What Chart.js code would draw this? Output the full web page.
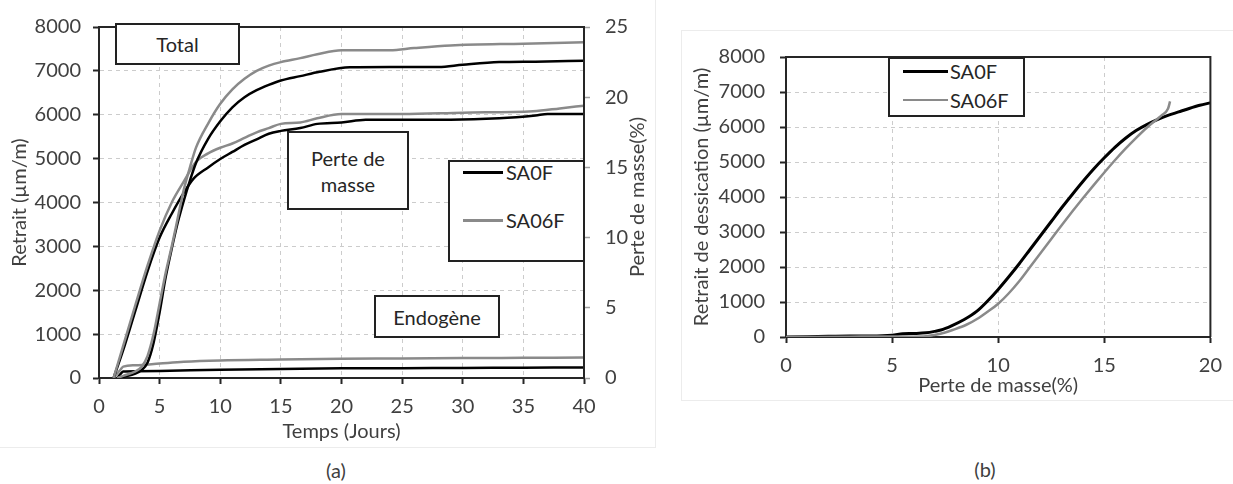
<!DOCTYPE html>
<html><head><meta charset="utf-8">
<script src="https://cdn.jsdelivr.net/npm/chart.js@4"></script>
<style>
body{margin:0;background:#fff;width:1233px;height:484px;position:relative;overflow:hidden;font-family:Lato,sans-serif;color:#404040}
.abs{position:absolute}
.box{position:absolute;border:2px solid #222;background:#fff;box-sizing:border-box;display:flex;align-items:center;justify-content:center;text-align:center;font-size:20px;color:#262626;line-height:1.3}
.leg{position:absolute;font-size:20px;color:#262626;line-height:24px;white-space:nowrap}
.ln{position:absolute;height:3px}
.frame{position:absolute;background:#ececec}
</style></head>
<body>
<div class="frame" style="left:655px;top:0;width:1px;height:447px"></div>
<div class="frame" style="left:0;top:447px;width:656px;height:1px"></div>
<div class="frame" style="left:681px;top:30px;width:552px;height:1px"></div>
<div class="frame" style="left:681px;top:30px;width:1px;height:370px"></div>
<div class="frame" style="left:681px;top:400px;width:552px;height:1px"></div>

<div class="abs" style="left:0;top:0;width:655px;height:446px"><canvas id="ca" width="655" height="446"></canvas></div>
<div class="abs" style="left:681px;top:30px;width:552px;height:370px"><canvas id="cb" width="552" height="370"></canvas></div>

<div class="abs" style="left:636px;top:197px;transform:translate(-50%,-50%) rotate(-90deg);font-size:20px;white-space:nowrap">Perte de masse(%)</div>

<div class="box" style="left:115px;top:23px;width:125px;height:42px">Total</div>
<div class="box" style="left:287px;top:131px;width:122px;height:79px">Perte de<br>masse</div>
<div class="box" style="left:374px;top:295px;width:126px;height:43px">Endogène</div>

<div class="box" style="left:448px;top:160px;width:137px;height:102px"></div>
<div class="ln" style="left:463px;top:171px;width:40px;background:#000"></div>
<div class="leg" style="left:506px;top:160px">SA0F</div>
<div class="ln" style="left:463px;top:219px;width:40px;background:#8a8a8a"></div>
<div class="leg" style="left:506px;top:208px">SA06F</div>

<div class="box" style="left:888px;top:57px;width:137px;height:60px"></div>
<div class="ln" style="left:903px;top:70px;width:45px;background:#000"></div>
<div class="leg" style="left:950px;top:59px">SA0F</div>
<div class="ln" style="left:903px;top:99px;width:45px;background:#8a8a8a;height:2px"></div>
<div class="leg" style="left:950px;top:88px">SA06F</div>

<div class="abs" style="left:336px;top:470px;transform:translate(-50%,-50%);font-size:20px">(a)</div>
<div class="abs" style="left:985px;top:469px;transform:translate(-50%,-50%);font-size:20px">(b)</div>

<script>
// ---------- Panel (a) data ----------
const totalDaysSA0F = [1.5, 2, 3, 3.5, 4, 4.5, 5, 5.5, 6, 6.5, 7, 7.5, 8, 9, 10, 11, 12, 13, 14, 15, 16.6, 18.2, 20.7, 24, 28, 30, 33, 36, 40];
const totalSA0F = [0, 30, 100, 180, 350, 800, 1500, 2300, 2950, 3550, 4050, 4500, 4900, 5450, 5850, 6170, 6400, 6560, 6680, 6780, 6880, 6980, 7080, 7090, 7090, 7140, 7200, 7210, 7230];
const totalDaysSA06F = [1.5, 2, 3, 3.5, 4, 4.5, 5, 5.5, 6, 6.5, 7, 7.5, 8, 9, 10, 11, 12, 13, 14, 15, 16.6, 18, 20, 24, 26, 29, 35, 40];
const totalSA06F = [0, 50, 150, 250, 500, 1000, 1700, 2400, 3000, 3650, 4300, 4800, 5250, 5800, 6250, 6580, 6820, 7000, 7120, 7200, 7290, 7380, 7470, 7470, 7520, 7580, 7620, 7650];

const massDaysSA0F = [1.2, 2, 3, 4, 5, 6, 7, 7.8, 9, 10, 11, 12, 13, 14, 15, 16.6, 18, 20, 22, 25, 29, 33, 36, 37, 40];
const massSA0F = [0, 2.0, 4.8, 7.6, 10.0, 11.7, 13.2, 14.2, 15.0, 15.6, 16.1, 16.6, 17.0, 17.4, 17.6, 17.8, 18.1, 18.2, 18.4, 18.4, 18.4, 18.5, 18.7, 18.8, 18.8];
const massDaysSA06F = [1.2, 2, 3, 4, 5, 6, 7, 8, 9, 10, 11, 12, 13, 14, 15, 16.6, 18, 20, 22, 25, 30, 35.8, 38, 40];
const massSA06F = [0, 2.3, 5.2, 8.0, 10.5, 12.5, 14.0, 15.4, 16.0, 16.4, 16.7, 17.1, 17.5, 17.8, 18.1, 18.2, 18.5, 18.8, 18.8, 18.8, 18.9, 19.0, 19.2, 19.4];

const endoDaysSA0F = [1.5, 1.8, 2, 3, 5, 10, 15, 20, 25, 30, 35, 40];
const endoSA0F = [0, 100, 150, 155, 160, 190, 205, 220, 225, 230, 235, 240];
const endoDaysSA06F = [1.2, 1.8, 2, 3, 5, 7, 10, 15, 20, 25, 30, 35, 40];
const endoSA06F = [0, 200, 260, 290, 330, 370, 400, 420, 440, 445, 455, 460, 465];

// ---------- Panel (b) data ----------
const lossSA0F = [0, 1, 2, 3, 4, 5, 5.5, 6, 6.6, 7, 7.3, 7.8, 8.4, 9, 9.5, 10, 10.5, 11, 11.5, 12, 12.5, 13, 13.5, 14, 14.5, 15, 15.5, 16, 16.5, 17, 17.5, 18, 18.5, 19, 19.5, 20];
const desSA0F = [0, 10, 20, 30, 30, 50, 90, 100, 120, 160, 200, 320, 500, 740, 1030, 1360, 1720, 2100, 2500, 2900, 3300, 3700, 4080, 4450, 4800, 5120, 5420, 5680, 5900, 6070, 6210, 6330, 6430, 6530, 6620, 6690];
const lossSA06F = [0, 3, 5, 6, 6.6, 7, 7.5, 7.85, 8.5, 9.1, 9.5, 10, 10.5, 11, 11.5, 12, 12.5, 13, 13.5, 14, 14.5, 15, 15.5, 16, 16.5, 17, 17.5, 17.7, 18, 18.1];
const desSA06F = [0, 10, 15, 10, 20, 60, 130, 200, 350, 550, 720, 950, 1250, 1600, 2000, 2400, 2800, 3200, 3590, 3970, 4340, 4700, 5050, 5380, 5690, 5980, 6230, 6330, 6520, 6730];

const daysTicks = [0, 5, 10, 15, 20, 25, 30, 35, 40];

const zip = (xs, ys) => xs.map((x, i) => ({x, y: ys[i]}));
const BLACK = '#000000', GRAY = '#8a8a8a';
const FONT = {family: 'Lato', size: 20};
const plain = v => String(v);
Chart.defaults.font.family = 'Lato';
Chart.defaults.color = '#404040';

const frame = {
  id: 'frame',
  afterDraw(chart) {
    const {ctx, chartArea: a} = chart;
    ctx.save();
    ctx.strokeStyle = '#262626';
    ctx.lineWidth = 2;
    ctx.beginPath();
    ctx.moveTo(a.left, a.top); ctx.lineTo(a.right, a.top); ctx.lineTo(a.right, a.bottom);
    ctx.stroke();
    ctx.restore();
  }
};

const ds = (label, data, color, axis, w) => ({
  label, data, borderColor: color, backgroundColor: color, borderWidth: w || 2.5,
  pointRadius: 0, fill: false, cubicInterpolationMode: 'monotone', yAxisID: axis
});

const gridCommon = {color: '#cccccc', tickColor: '#262626', tickLength: 6, tickWidth: 2};
const borderCommon = {color: '#262626', width: 2, dash: [4, 4]};

new Chart(document.getElementById('ca'), {
  type: 'line',
  data: {datasets: [
    ds('Total SA06F', zip(totalDaysSA06F, totalSA06F), GRAY, 'y'),
    ds('Total SA0F', zip(totalDaysSA0F, totalSA0F), BLACK, 'y'),
    ds('Masse SA06F', zip(massDaysSA06F, massSA06F), GRAY, 'y1'),
    ds('Masse SA0F', zip(massDaysSA0F, massSA0F), BLACK, 'y1'),
    ds('Endo SA06F', zip(endoDaysSA06F, endoSA06F), GRAY, 'y'),
    ds('Endo SA0F', zip(endoDaysSA0F, endoSA0F), BLACK, 'y')
  ]},
  options: {
    responsive: false, animation: false,
    layout: {padding: {top: 16, left: 0, right: 0, bottom: 0}},
    plugins: {legend: {display: false}, tooltip: {enabled: false}},
    scales: {
      x: {
        type: 'linear', min: 0, max: 40,
        afterBuildTicks: s => { s.ticks = daysTicks.map(v => ({value: v})); },
        ticks: {font: FONT, padding: 11, maxRotation: 0, callback: plain},
        grid: gridCommon, border: borderCommon,
        title: {display: true, text: 'Temps (Jours)', font: FONT, padding: {top: 0, bottom: 2}},
        afterFit: s => { s.height = 68; }
      },
      y: {
        position: 'left', min: 0, max: 8000,
        ticks: {stepSize: 1000, font: FONT, padding: 12, callback: plain},
        grid: gridCommon, border: borderCommon,
        title: {display: true, text: 'Retrait (µm/m)', font: FONT, padding: {top: 8, bottom: 0}},
        afterFit: s => { s.width = 99; }
      },
      y1: {
        position: 'right', min: 0, max: 25,
        ticks: {stepSize: 5, font: FONT, padding: 15, callback: plain},
        grid: {drawOnChartArea: false, tickColor: '#a0a0a0', tickLength: 6, tickWidth: 1.5},
        border: {color: '#262626', width: 2},
        afterFit: s => { s.width = 71; }
      }
    }
  },
  plugins: [frame]
});

new Chart(document.getElementById('cb'), {
  type: 'line',
  data: {datasets: [
    ds('SA06F', zip(lossSA06F, desSA06F), GRAY, 'y', 2.5),
    ds('SA0F', zip(lossSA0F, desSA0F), BLACK, 'y', 3)
  ]},
  options: {
    responsive: false, animation: false,
    layout: {padding: {top: 25, left: 0, right: 19, bottom: 0}},
    plugins: {legend: {display: false}, tooltip: {enabled: false}},
    scales: {
      x: {
        type: 'linear', min: 0, max: 20,
        ticks: {stepSize: 5, font: FONT, padding: 11, maxRotation: 0, callback: plain},
        grid: gridCommon, border: borderCommon,
        title: {display: true, text: 'Perte de masse(%)', font: FONT, padding: {top: 0, bottom: 2}},
        afterFit: s => { s.height = 63; }
      },
      y: {
        position: 'left', min: 0, max: 8000,
        ticks: {stepSize: 1000, font: FONT, padding: 15, callback: plain},
        grid: gridCommon, border: borderCommon,
        title: {display: true, text: 'Retrait de dessication (µm/m)', font: FONT, padding: {top: 9, bottom: 0}},
        afterFit: s => { s.width = 105; }
      }
    }
  },
  plugins: [frame]
});
</script>
</body></html>
